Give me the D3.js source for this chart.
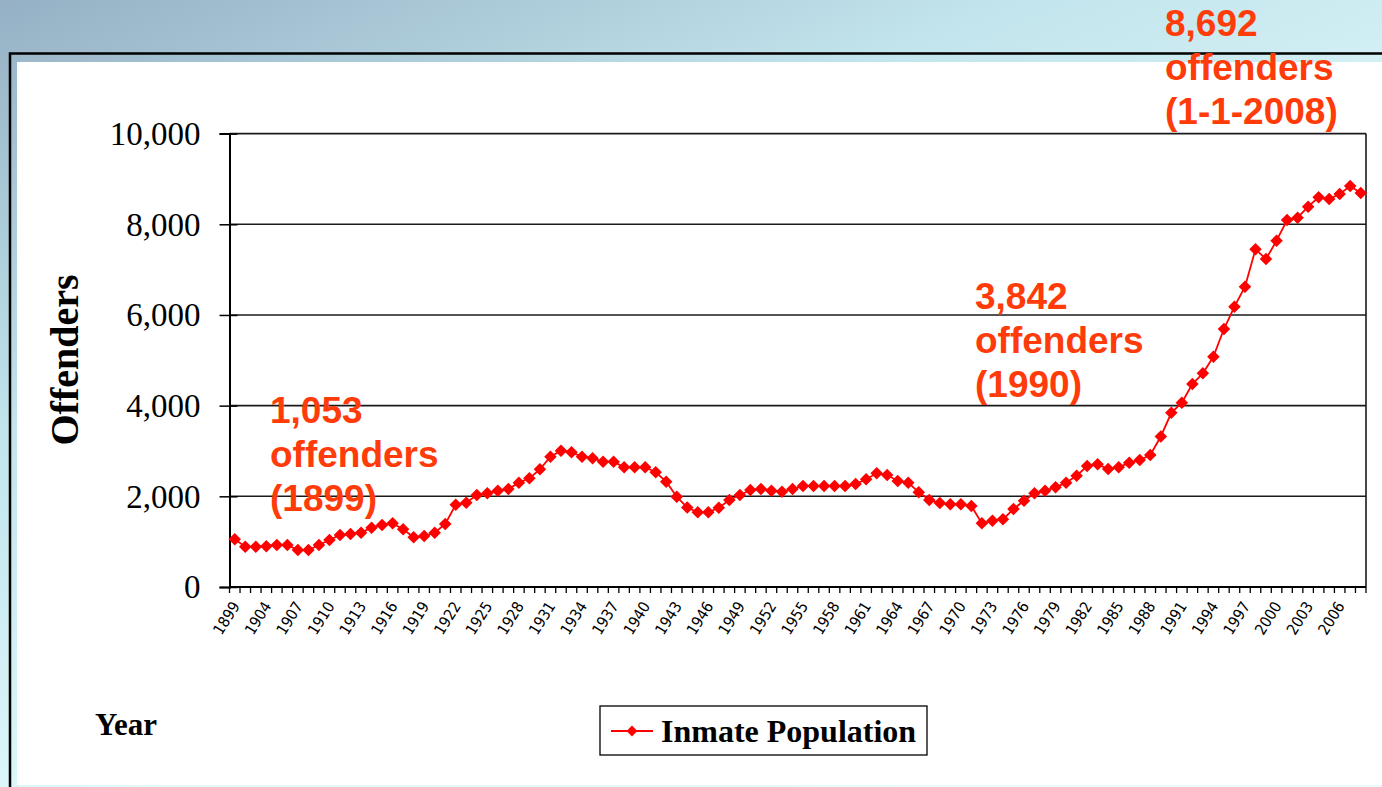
<!DOCTYPE html>
<html lang="en">
<head>
<meta charset="UTF-8">
<title>Inmate Population</title>
<script src="https://cdn.jsdelivr.net/npm/d3@7"></script>
<style>
  html, body { margin: 0; padding: 0; overflow: hidden; }
  svg { display: block; }
  .grid line { stroke: #1a1a1a; stroke-width: 1.6; }
  .ytick text { font-family: "Liberation Serif", "Times New Roman", serif; font-size: 33px; fill: #000; }
  .xaxis text { font-family: "DejaVu Sans Condensed", "DejaVu Sans", sans-serif; font-size: 15.5px; fill: #000; }
  .note { font-family: "Liberation Sans", Arial, sans-serif; font-weight: bold; font-size: 37px; fill: #ff3b0a; }
  .title { font-family: "Liberation Serif", "Times New Roman", serif; font-weight: bold; fill: #000; }
</style>
</head>
<body>
<svg id="chart"></svg>
<script>
// categories (1900 and 1901 are not in the source series)
var years = [1899].concat(d3.range(1902, 2009));

// inmate population
var inmates = [
  1053, 889, 889, 900, 926, 926, 816, 816, 926, 1037,
  1147, 1170, 1198, 1309, 1368, 1404, 1272, 1096, 1125, 1198,
  1389, 1815, 1860, 2029, 2066, 2125, 2161, 2301, 2397, 2596,
  2875, 3007, 2970, 2875, 2838, 2764, 2764, 2640, 2640, 2640,
  2530, 2323, 1992, 1752, 1647, 1647, 1750, 1919, 2029, 2139,
  2161, 2125, 2103, 2161, 2228, 2228, 2228, 2228, 2228, 2272,
  2375, 2507, 2470, 2338, 2301, 2088, 1919, 1852, 1824, 1824,
  1787, 1404, 1463, 1493, 1720, 1904, 2066, 2125, 2199, 2301,
  2455, 2669, 2706, 2603, 2640, 2742, 2801, 2911, 3320, 3842,
  4066, 4477, 4713, 5080, 5690, 6183, 6624, 7448, 7234, 7638,
  8094, 8145, 8388, 8595, 8558, 8668, 8844, 8692
];

var yTicks = [0, 2000, 4000, 6000, 8000, 10000];

var notes = [
  ["1,053", "offenders", "(1899)"],
  ["3,842", "offenders", "(1990)"],
  ["8,692", "offenders", "(1-1-2008)"]
];
// where each note's first line starts
var notePos = [[270, 423], [975, 309], [1165, 36]];

var W = 1382, H = 787;
var plotL = 229.5, plotR = 1366, plotT = 133.6, plotB = 587;

var svg = d3.select("#chart").attr("width", W).attr("height", H);

// slide background
var defs = svg.append("defs");
var grad = defs.append("linearGradient").attr("id", "bg")
  .attr("x1", "0").attr("y1", "0").attr("x2", "0.75").attr("y2", "1");
grad.append("stop").attr("offset", "0").attr("stop-color", "#95b0c4");
grad.append("stop").attr("offset", "0.35").attr("stop-color", "#c2e4ec");
grad.append("stop").attr("offset", "0.7").attr("stop-color", "#e0fafc");
grad.append("stop").attr("offset", "1").attr("stop-color", "#e4fcfd");
svg.append("rect").attr("width", W).attr("height", H).attr("fill", "url(#bg)");

// chart frame
svg.append("path").attr("d", "M10,787 V53.5 H" + W)
  .attr("fill", "none").attr("stroke", "#000").attr("stroke-width", 2.5);
svg.append("rect").attr("x", 17).attr("y", 62).attr("width", W - 17).attr("height", 723)
  .attr("fill", "#fff");

var x = d3.scaleBand().domain(years).range([plotL, plotR]);
var y = d3.scaleLinear().domain([0, 10000]).range([plotB, plotT]);

// grid lines
svg.append("g").attr("class", "grid")
  .selectAll("line").data(yTicks.filter(d => d > 0)).enter().append("line")
  .attr("x1", plotL).attr("x2", plotR)
  .attr("y1", d => y(d)).attr("y2", d => y(d));

// right border of the plot
svg.append("line").attr("x1", plotR).attr("x2", plotR).attr("y1", plotT).attr("y2", plotB)
  .attr("stroke", "#1a1a1a").attr("stroke-width", 1.6);

// y axis, ticks crossing the axis line
var yAxis = svg.append("g").attr("class", "ytick")
  .attr("transform", "translate(" + plotL + ",0)")
  .call(d3.axisLeft(y).tickValues(yTicks).tickSize(10).tickPadding(19).tickFormat(d3.format(",")));
yAxis.select(".domain").attr("stroke", "#000").attr("stroke-width", 2);
yAxis.selectAll(".tick line").attr("x2", 8).attr("x1", -10).attr("stroke", "#000").attr("stroke-width", 1.5);
yAxis.selectAll("text").attr("dy", "0.33em");

// x axis: labels every third category, tick marks between every category
var xAxis = svg.append("g").attr("class", "xaxis")
  .attr("transform", "translate(0," + plotB + ")")
  .call(d3.axisBottom(x).tickValues(years.filter((d, i) => i % 3 === 0)).tickSize(0).tickPadding(0));
xAxis.select(".domain").remove();
xAxis.selectAll("text")
  .attr("text-anchor", "end")
  .attr("dy", "0.35em")
  .attr("transform", "translate(1,16) rotate(-58)");

svg.append("line").attr("x1", plotL).attr("x2", plotR).attr("y1", plotB).attr("y2", plotB)
  .attr("stroke", "#000").attr("stroke-width", 2.2);
svg.append("g").selectAll("line").data(years.concat(["end"])).enter().append("line")
  .attr("x1", d => d === "end" ? plotR : x(d))
  .attr("x2", d => d === "end" ? plotR : x(d))
  .attr("y1", plotB).attr("y2", plotB + 6)
  .attr("stroke", "#000").attr("stroke-width", 1.3);

// data line and diamond markers
var cx = (d, i) => x(years[i]) + x.bandwidth() / 2;
var line = d3.line().x(cx).y(d => y(d));
svg.append("path").datum(inmates)
  .attr("d", line).attr("fill", "none").attr("stroke", "#ff0000").attr("stroke-width", 1.8);

var diamond = d3.symbol().type(d3.symbolDiamond2).size(100);
svg.append("g").selectAll("path").data(inmates).enter().append("path")
  .attr("d", diamond)
  .attr("transform", (d, i) => "translate(" + cx(d, i) + "," + y(d) + ")")
  .attr("fill", "#ff0000");

// axis titles
svg.append("text").attr("class", "title")
  .attr("transform", "translate(78,360) rotate(-90)")
  .attr("text-anchor", "middle").attr("font-size", 40).text("Offenders");
svg.append("text").attr("class", "title")
  .attr("x", 95).attr("y", 735).attr("font-size", 31).text("Year");

// legend
var lg = svg.append("g").attr("transform", "translate(600,706)");
lg.append("rect").attr("width", 327).attr("height", 49)
  .attr("fill", "#fff").attr("stroke", "#000").attr("stroke-width", 1.3);
lg.append("line").attr("x1", 11).attr("x2", 53).attr("y1", 25).attr("y2", 25)
  .attr("stroke", "#ff0000").attr("stroke-width", 1.8);
lg.append("path").attr("d", d3.symbol().type(d3.symbolDiamond2).size(75))
  .attr("transform", "translate(32,25)").attr("fill", "#ff0000");
lg.append("text").attr("class", "title").attr("x", 61).attr("y", 36)
  .attr("font-size", 32).text("Inmate Population");

// annotations
notes.forEach(function(lines, k) {
  var t = svg.append("text").attr("class", "note")
    .attr("x", notePos[k][0]).attr("y", notePos[k][1]);
  lines.forEach(function(s, j) {
    t.append("tspan").attr("x", notePos[k][0]).attr("dy", j === 0 ? 0 : 44).text(s);
  });
});
</script>
</body>
</html>
